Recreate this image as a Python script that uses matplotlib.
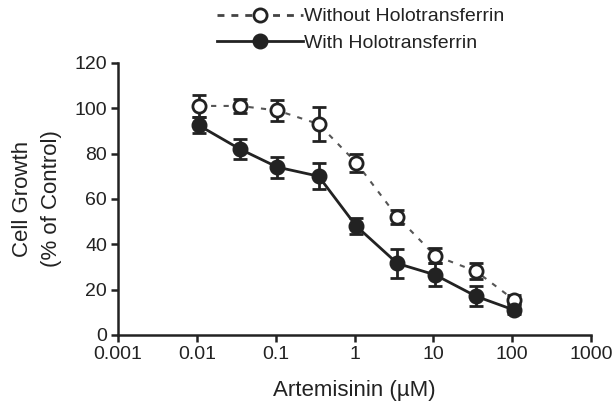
import matplotlib
matplotlib.use("Agg")
import matplotlib.pyplot as plt
from matplotlib.lines import Line2D

plt.rcParams['font.family'] = ['Liberation Sans', 'DejaVu Sans']

conc = [0.0105, 0.035, 0.105, 0.35, 1.05, 3.5, 10.5, 35, 105]
without_ht = [101, 101, 99, 93, 76, 52, 35, 28, 15.5]
without_err = [5, 3, 4.5, 7.5, 4, 3, 3.3, 3.5, 2]
with_ht = [92.5, 82, 74, 70, 48, 31.5, 26.5, 17, 11]
with_err = [3.6, 4.4, 4.6, 5.7, 3.7, 6.5, 5, 4.4, 2]

xticks = [0.001, 0.01, 0.1, 1, 10, 100, 1000]
xtick_labels = ["0.001", "0.01", "0.1", "1", "10", "100", "1000"]
yticks = [0, 20, 40, 60, 80, 100, 120]

FS = 14
LFS = 16
fig = plt.figure(figsize=(6.15, 4.03), dpi=100)
ax = fig.add_axes([0.192, 0.169, 0.769, 0.675])

ax.errorbar(conc, without_ht, yerr=without_err, fmt='none', ecolor='#222222',
            elinewidth=2, capsize=5, capthick=2, zorder=2)
ax.plot(conc, without_ht, linestyle=(0, (2.5, 3.5)), color='#555555', linewidth=1.5, zorder=1)
ax.plot(conc, without_ht, linestyle='none', marker='o', markersize=9.5,
        markerfacecolor='white', markeredgecolor='#222222', markeredgewidth=2, zorder=3)

ax.errorbar(conc, with_ht, yerr=with_err, fmt='none', ecolor='#222222',
            elinewidth=2, capsize=5, capthick=2, zorder=2)
ax.plot(conc, with_ht, linestyle='-', color='#222222', linewidth=2, zorder=1)
ax.plot(conc, with_ht, linestyle='none', marker='o', markersize=10.5,
        markerfacecolor='#222222', markeredgecolor='#222222', zorder=3)

ax.set_xscale('log')
ax.set_xlim(0.001, 1000)
ax.set_ylim(0, 120)
ax.set_xticks(xticks)
ax.set_xticklabels(xtick_labels)
ax.minorticks_off()
ax.set_yticks(yticks)
ax.spines['top'].set_visible(False)
ax.spines['right'].set_visible(False)
for s in ['left', 'bottom']:
    ax.spines[s].set_linewidth(1.8)
    ax.spines[s].set_color('#222222')
ax.tick_params(direction='out', length=5, width=1.8, color='#222222',
               labelsize=FS, labelcolor='#222222', pad=3)

ax.set_xlabel('Artemisinin (µM)', fontsize=LFS, color='#222222', labelpad=12)
fig.text(37 / 615, 1 - 199 / 403, 'Cell Growth\n(% of Control)', fontsize=LFS,
         color='#222222', rotation=90, ha='center', va='center',
         linespacing=1.55, multialignment='center')

handles = [
    Line2D([], [], linestyle=(0, (2.5, 2.5)), color='#444444', linewidth=2,
           marker='o', markersize=9.5, markerfacecolor='white',
           markeredgecolor='#222222', markeredgewidth=2),
    Line2D([], [], linestyle='-', color='#222222', linewidth=2,
           marker='o', markersize=10.5, markerfacecolor='#222222',
           markeredgecolor='#222222'),
]
fig.legend(handles, ['Without Holotransferrin', 'With Holotransferrin'],
           loc='upper left', bbox_to_anchor=(0.341, 1.0), frameon=False,
           fontsize=FS, handlelength=4.4, handletextpad=0.05,
           labelspacing=0.45, borderaxespad=0, labelcolor='#222222')

fig.savefig('out.png', dpi=100)
